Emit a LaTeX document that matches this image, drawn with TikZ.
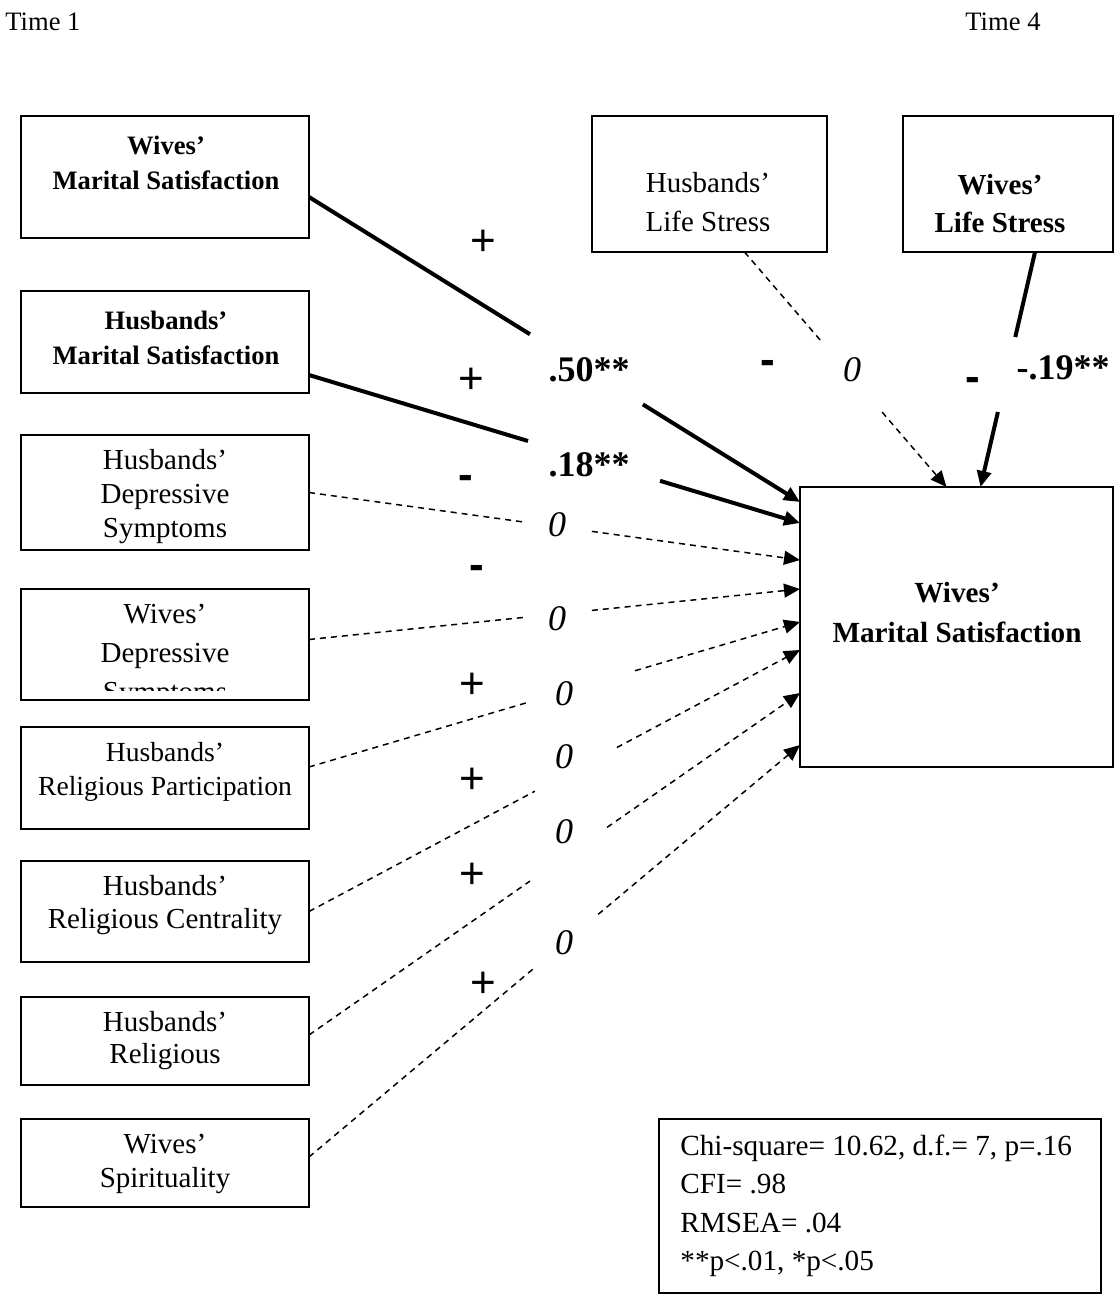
\documentclass[tikz,border=0pt]{standalone}
\usepackage{fontspec}
\setmainfont{Liberation Serif}
\newfontfamily\signfont{Liberation Sans}
\usetikzlibrary{arrows.meta,calc}

\tikzset{
  varbox/.style={draw,line width=1pt,inner sep=0pt,outer sep=0pt},
  boxtxt/.style={align=center,inner sep=0pt,font=\fontsize{14.5}{16.8}\selectfont},
  boldtxt/.style={align=center,inner sep=0pt,font=\fontsize{13.3}{17.5}\selectfont\bfseries},
  coeflbl/.style={inner sep=0pt,font=\fontsize{18}{18}\selectfont\bfseries},
  zerolbl/.style={inner sep=0pt,font=\fontsize{18}{18}\selectfont\itshape},
  pluslbl/.style={inner sep=0pt,anchor=base,yshift=-7.8pt,font=\fontsize{22}{22}\signfont},
  minuslbl/.style={inner sep=0pt,anchor=base,yshift=-5.7pt,font=\fontsize{22}{22}\signfont\bfseries},
  timelbl/.style={anchor=west,inner sep=0pt,font=\fontsize{13.3}{16}\selectfont},
  sigline/.style={line width=2pt},
  nsline/.style={line width=.75pt,dash pattern=on 3pt off 2.5pt},
  arrowtip/.style={-{Triangle[length=8pt,width=7pt]}}
}

\begin{document}
\begin{tikzpicture}[x=0.5pt,y=-0.5pt]
\useasboundingbox (0,0) rectangle (1118,1300);

\node[timelbl] (t1) at (5,22) {Time 1};
\node[timelbl] (t4) at (965,22) {Time 4};

% Time 1 boxes
\node[varbox,minimum width=144pt,minimum height=61pt] (wms1) at (165,177) {};
\node[varbox,minimum width=144pt,minimum height=51pt] (hms1) at (165,342) {};
\node[varbox,minimum width=144pt,minimum height=57.5pt] (hdep) at (165,492.5) {};
\node[varbox,minimum width=144pt,minimum height=55.5pt] (wdep) at (165,644.5) {};
\node[varbox,minimum width=144pt,minimum height=51pt] (hrp) at (165,778) {};
\node[varbox,minimum width=144pt,minimum height=50.5pt] (hrc) at (165,911.5) {};
\node[varbox,minimum width=144pt,minimum height=44pt] (hrel) at (165,1041) {};
\node[varbox,minimum width=144pt,minimum height=44pt] (wspir) at (165,1163) {};

\node[boldtxt] (wms1txt) at (166,162.5) {Wives'\\Marital Satisfaction};
\node[boldtxt] (hms1txt) at (166,337.5) {Husbands'\\Marital Satisfaction};
\begin{scope}
  \clip (hdep.north west) rectangle (hdep.south east);
  \node[boxtxt] (hdeptxt) at (165,496.5) {Husbands'\\Depressive\\Symptoms};
\end{scope}
\begin{scope}
  \clip (wdep.north west) rectangle ($(wdep.south east)+(0,-10)$);
  \node[boxtxt,font=\fontsize{14.5}{19.5}\selectfont] (wdeptxt) at (165,656) {Wives'\\Depressive\\Symptoms};
\end{scope}
\node[boxtxt,font=\fontsize{13.8}{17}\selectfont] (hrptxt) at (165,772) {Husbands'\\Religious Participation};
\node[boxtxt] (hrctxt) at (165,905) {Husbands'\\Religious Centrality};
\node[boxtxt,font=\fontsize{14.5}{16}\selectfont] (hreltxt) at (165,1041) {Husbands'\\Religious};
\node[boxtxt] (wspirtxt) at (165,1164) {Wives'\\Spirituality};

% Time 4 boxes
\node[varbox,minimum width=117.5pt,minimum height=68pt] (hls) at (709.5,184) {};
\node[varbox,minimum width=105pt,minimum height=68pt] (wls) at (1008,184) {};
\node[varbox,minimum width=156.5pt,minimum height=140pt] (wms4) at (956.5,627) {};
\node[varbox,minimum width=221pt,minimum height=87pt] (fit) at (880,1206) {};

\node[boxtxt,font=\fontsize{14.5}{19.5}\selectfont] (hlstxt) at (708,202.5) {Husbands'\\Life Stress};
\node[boldtxt,font=\fontsize{14.5}{19}\selectfont\bfseries] (wlstxt) at (1000,203.5) {Wives'\\Life Stress};
\node[boldtxt,font=\fontsize{14.6}{20}\selectfont\bfseries] (wms4txt) at (957,613) {Wives'\\Marital Satisfaction};
\node[anchor=west,align=left,inner sep=0pt,font=\fontsize{14.6}{19.2}\selectfont] (fittxt) at (680,1206)
  {Chi-square= 10.62, d.f.= 7, p=.16\\CFI= .98\\RMSEA= .04\\**p<.01, *p<.05};

% paths into wives' marital satisfaction
\foreach \src/\sy/\ty/\ta/\tb in {wms1/20/-125/.45/.68, hms1/33/-104/.446/.715}{
  \path ($(\src.east)+(0,\sy)$) coordinate (p1) ($(wms4.west)+(0,\ty)$) coordinate (p2);
  \draw[sigline] (p1) -- ($(p1)!\ta!(p2)$);
  \draw[sigline,arrowtip] ($(p1)!\tb!(p2)$) -- (p2);
}
\foreach \src/\sy/\ty/\ta/\tb in {hdep/0/-67/.44/.576, wdep/-5/-38/.44/.576,
    hrp/-11/-5/.45/.664, hrc/0/23/.46/.627, hrel/-6/66/.45/.607, wspir/-6/118/.462/.589}{
  \path ($(\src.east)+(0,\sy)$) coordinate (p1) ($(wms4.west)+(0,\ty)$) coordinate (p2);
  \draw[nsline] (p1) -- ($(p1)!\ta!(p2)$);
  \draw[nsline,arrowtip] ($(p1)!\tb!(p2)$) -- (p2);
}
\path ($(hls.south)+(35,0)$) coordinate (p1) ($(wms4.north)+(-10,0)$) coordinate (p2);
\draw[nsline] (p1) -- ($(p1)!.383!(p2)$);
\draw[nsline,arrowtip] ($(p1)!.681!(p2)$) -- (p2);
\path ($(wls.south)+(27,0)$) coordinate (p1) ($(wms4.north)+(24,0)$) coordinate (p2);
\draw[sigline] (p1) -- ($(p1)!.362!(p2)$);
\draw[sigline,arrowtip] ($(p1)!.681!(p2)$) -- (p2);

% signs and estimates
\foreach \x/\y [count=\i] in {483/240, 471/378, 472/683, 472/778, 472/873, 483/982}
  \node[pluslbl] (plus\i) at (\x,\y) {+};
\foreach \x/\y [count=\i] in {466/478, 477/568, 768/363, 973/380}
  \node[minuslbl] (minus\i) at (\x,\y) {-};
\node[coeflbl] (b1) at (589,370) {.50**};
\node[coeflbl] (b2) at (589,465) {.18**};
\node[coeflbl] (b3) at (1063,368) {-.19**};
\foreach \x/\y [count=\i] in {557/525, 557/619, 564/694, 564/757, 564/832, 564/943, 852/370}
  \node[zerolbl] (z\i) at (\x,\y) {0};

\end{tikzpicture}
\end{document}
